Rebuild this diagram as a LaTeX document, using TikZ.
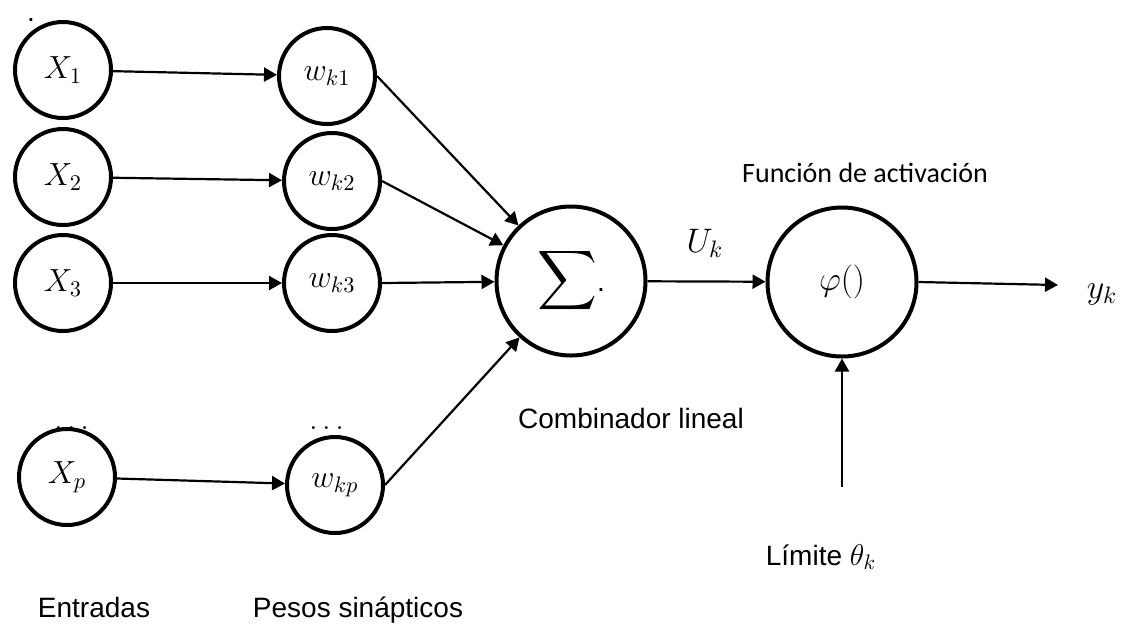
\documentclass[tikz,border=0pt]{standalone}
\usepackage{fix-cm}
\usepackage{amsmath}
\usepackage{fontspec}
\setmainfont{Liberation Sans}
\newfontfamily\calibri{Carlito}
\usetikzlibrary{arrows.meta}

\begin{document}
\begin{tikzpicture}[x=0.5pt, y=-0.5pt,
        neuron/.style={draw, circle, line width=2pt, fill=white, inner sep=0pt, minimum size=48pt, font=\fontsize{16}{19}\selectfont},
        bigneuron/.style={neuron, minimum size=74.5pt, font=\fontsize{20}{24}\selectfont},
        link/.style={line width=1.1pt, -{Triangle[length=6.5pt, width=7pt]}},
        caption/.style={anchor=base, inner sep=0pt, font=\fontsize{14}{17}\selectfont},
        mathlabel/.style={anchor=base, inner sep=0pt, font=\fontsize{17}{20}\selectfont}]
                \useasboundingbox (0,0) rectangle (1128,629);
                \node[caption] (corner) at (31,21) {.};
                \node[mathlabel, font=\fontsize{15}{18}\selectfont] (xdots) at (74,429) {$\dots$};
                \node[mathlabel, font=\fontsize{15}{18}\selectfont] (wdots) at (329,429) {$\dots$};
                \node[neuron] (x1) at (63,70) {$X_1$};
                \node[neuron] (x2) at (63,177) {$X_2$};
                \node[neuron] (x3) at (63,283) {$X_3$};
                \node[neuron] (xp) at (67,477) {$X_p$};
                \node[neuron] (wk1) at (327,76) {$w_{k1}$};
                \node[neuron] (wk2) at (332,181) {$w_{k2}$};
                \node[neuron] (wk3) at (332,283) {$w_{k3}$};
                \node[neuron] (wkp) at (335,485) {$w_{kp}$};
                \node[bigneuron] (sum) at (571,281) {$\displaystyle\sum$\fontsize{14}{17}\selectfont.};
                \node[neuron, minimum size=74.5pt, font=\fontsize{17}{20}\selectfont] (act) at (842,282) {$\varphi()$};
                \node[mathlabel] (uk) at (705,252) {$U_k$};
                \node[mathlabel] (yk) at (1102,298) {$y_k$};
                \node[caption, font=\calibri\fontsize{14}{17}\selectfont] (actlabel) at (865,182) {Función de activación};
                \node[caption] (comb) at (631,428) {Combinador lineal};
                \node[caption] (limit) at (821,565) {Límite {\fontsize{15}{18}\selectfont$\theta_k$}};
                \node[caption] (inputs) at (94,617) {Entradas};
                \node[caption] (weights) at (358,617) {Pesos sinápticos};
                \coordinate (yend) at (1058,285);
                \coordinate (lim) at (842,487);
                \draw[link] (x1) -- (wk1);
                \draw[link] (x2) -- (wk2);
                \draw[link] (x3) -- (wk3);
                \draw[link] (xp) -- (wkp);
                \draw[link] (wk1.east) -- (sum);
                \draw[link] (wk2.east) -- (sum);
                \draw[link] (wk3.east) -- (sum);
                \draw[link] (wkp.east) -- (sum);
                \draw[link] (sum) -- (act);
                \draw[link] (act.east) -- (yend);
                \draw[link] (lim) -- (act);
            \end{tikzpicture}
\end{document}
